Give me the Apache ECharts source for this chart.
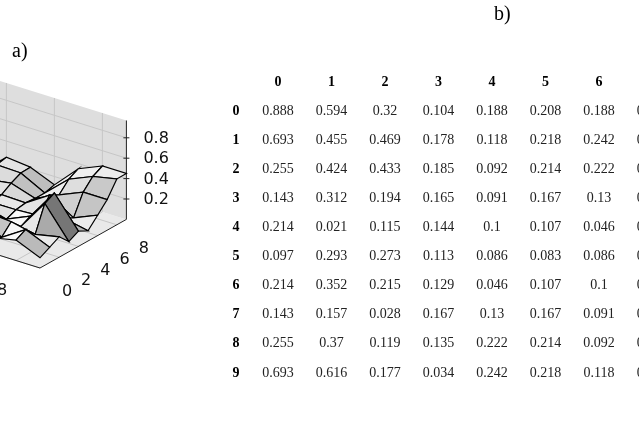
<!DOCTYPE html>
<html><head><meta charset="utf-8">
<script src="https://cdn.jsdelivr.net/npm/echarts@6/dist/echarts.min.js"></script>
<style>html,body{margin:0;padding:0;background:#fff}#c{width:639px;height:426px}</style>
</head><body><div id="c"></div>
<script>
// Table (rows 0..9, columns 0..7; column 7 is cut off in the reference, estimated)
const colLabels = ['0','1','2','3','4','5','6','7'];
const rowLabels = ['0','1','2','3','4','5','6','7','8','9'];
const tableValues = [
 [0.888,0.594,0.32,0.104,0.188,0.208,0.188,0.207],
 [0.693,0.455,0.469,0.178,0.118,0.218,0.242,0.205],
 [0.255,0.424,0.433,0.185,0.092,0.214,0.222,0.203],
 [0.143,0.312,0.194,0.165,0.091,0.167,0.13,0.104],
 [0.214,0.021,0.115,0.144,0.1,0.107,0.046,0.106],
 [0.097,0.293,0.273,0.113,0.086,0.083,0.086,0.102],
 [0.214,0.352,0.215,0.129,0.046,0.107,0.1,0.105],
 [0.143,0.157,0.028,0.167,0.13,0.167,0.091,0.108],
 [0.255,0.37,0.119,0.135,0.222,0.214,0.092,0.203],
 [0.693,0.616,0.177,0.034,0.242,0.218,0.118,0.206]
];
// Surface heights Z[i][j]: i = depth axis (0..9), j = left axis (0..9); columns 7-9
const extraCols = [
 [0.15,0.20,0.10],
 [0.10,0.25,0.15],
 [0.20,0.15,0.20],
 [0.10,0.40,0.10],
 [0.15,0.45,0.15],
 [0.10,0.15,0.10],
 [0.25,0.10,0.20],
 [0.20,0.30,0.30],
 [0.30,0.40,0.45],
 [0.35,0.45,0.45]
];
const zTicks = [0.2,0.4,0.6,0.8];
const iTicks = [0,2,4,6,8];
const jTicks = [0,2,4,6,8];

const N = 10, ZMAX = 0.97;
const Z = tableValues.map((r,k)=>r.slice(0,7).concat(extraCols[k]));

const F=[40,268], UI=[9.6,-5.4], UJ=[-24,-7.5], UZ=102;
function P(j,i,z){return [F[0]+i*UI[0]+(9-j)*UJ[0], F[1]+i*UI[1]+(9-j)*UJ[1]-z*UZ];}

const g=[];
g.push({type:'polygon',shape:{points:[P(0,0,0),P(9,0,0),P(9,9,0),P(0,9,0)]},style:{fill:'#e9e9e9'},z:0});
g.push({type:'polygon',shape:{points:[P(0,9,0),P(9,9,0),P(9,9,ZMAX),P(0,9,ZMAX)]},style:{fill:'#dedede'},z:0});
g.push({type:'polygon',shape:{points:[P(0,0,0),P(0,9,0),P(0,9,ZMAX),P(0,0,ZMAX)]},style:{fill:'#d6d6d6'},z:0});
const gl={stroke:'#c6c6c6',lineWidth:1};
iTicks.forEach(t=>{g.push({type:'polyline',shape:{points:[P(9,t,0),P(0,t,0),P(0,t,ZMAX)]},style:Object.assign({fill:null},gl),z:1});});
jTicks.forEach(t=>{g.push({type:'polyline',shape:{points:[P(t,0,0),P(t,9,0),P(t,9,ZMAX)]},style:Object.assign({fill:null},gl),z:1});});
zTicks.forEach(t=>{g.push({type:'polyline',shape:{points:[P(0,0,t),P(0,9,t),P(9,9,t)]},style:Object.assign({fill:null},gl),z:1});});
const al={stroke:'#222',lineWidth:1,fill:null};
g.push({type:'polyline',shape:{points:[P(9,9,0),P(9,9,ZMAX)]},style:al,z:1});
g.push({type:'polyline',shape:{points:[P(9,0,0),P(9,9,0)]},style:al,z:1});
g.push({type:'polyline',shape:{points:[P(0,0,0),P(9,0,0)]},style:al,z:1});
zTicks.forEach(t=>{const p=P(9,9,t);g.push({type:'line',shape:{x1:p[0]-3,y1:p[1],x2:p[0]+3,y2:p[1]},style:{stroke:'#222'},z:1});
 g.push({type:'text',x:p[0]+17,y:p[1]+1,style:{text:String(t),font:'16px "DejaVu Sans"',fill:'#111',align:'left',verticalAlign:'middle'},z:3});});
iTicks.forEach(t=>{const p=P(9,t,0);g.push({type:'text',x:p[0]+27,y:p[1]+24,style:{text:String(t),font:'16px "DejaVu Sans"',fill:'#111',align:'center',verticalAlign:'middle'},z:3});});
jTicks.forEach(t=>{const p=P(t,0,0);g.push({type:'text',x:p[0]-14,y:p[1]+30,style:{text:String(t),font:'16px "DejaVu Sans"',fill:'#111',align:'center',verticalAlign:'middle'},z:3});});
g.push({type:'text',x:12,y:52,style:{text:'a)',font:'20px "Liberation Serif"',fill:'#000',verticalAlign:'middle'},z:3});
g.push({type:'text',x:494,y:15,style:{text:'b)',font:'20px "Liberation Serif"',fill:'#000',verticalAlign:'middle'},z:3});
const colX0=278, colDX=53.5, rowY0=111, rowDY=29.1;
colLabels.forEach((c,k)=>g.push({type:'text',x:colX0+k*colDX,y:82,style:{text:c,font:'bold 14px "Liberation Serif"',fill:'#000',align:'center',verticalAlign:'middle'},z:3}));
rowLabels.forEach((r,k)=>{
 g.push({type:'text',x:236,y:rowY0+k*rowDY,style:{text:r,font:'bold 14px "Liberation Serif"',fill:'#000',align:'center',verticalAlign:'middle'},z:3});
 tableValues[k].forEach((v,m)=>g.push({type:'text',x:colX0+m*colDX,y:rowY0+k*rowDY,style:{text:String(v),font:'14px "Liberation Serif"',fill:'#222',align:'center',verticalAlign:'middle'},z:3}));
});

const quads=[];
for(let i=0;i<N-1;i++)for(let j=0;j<N-1;j++)quads.push([i,j,(i+0.5)+(9-(j+0.5))*0.9]);
quads.sort((a,b)=>b[2]-a[2]);
const L=(function(){const v=[-0.4,0.3,0.87];const n=Math.hypot(...v);return v.map(x=>x/n);})();
const chart=echarts.init(document.getElementById('c'));
chart.setOption({
 animation:false,
 graphic:{elements:g},
 series:[{type:'custom',coordinateSystem:'none',data:quads,z:2,
  renderItem:function(params,api){
   const i=api.value(0), j=api.value(1);
   const a=Z[i][j],b=Z[i][j+1],c=Z[i+1][j+1],d=Z[i+1][j];
   const s=4;
   const dzj=((b-a)+(c-d))/2*s, dzi=((d-a)+(c-b))/2*s;
   let n=[-dzj,-dzi,1];const ln=Math.hypot(...n);n=n.map(x=>x/ln);
   let lit=Math.max(0,n[0]*L[0]+n[1]*L[1]+n[2]*L[2]);
   const gv=Math.round(Math.min(250,80+180*lit));
   return {type:'polygon',shape:{points:[P(j,i,a),P(j+1,i,b),P(j+1,i+1,c),P(j,i+1,d)]},
    style:{fill:'rgb('+gv+','+gv+','+gv+')',stroke:'#000',lineWidth:1.2}};
  }}]
});
</script></body></html>
